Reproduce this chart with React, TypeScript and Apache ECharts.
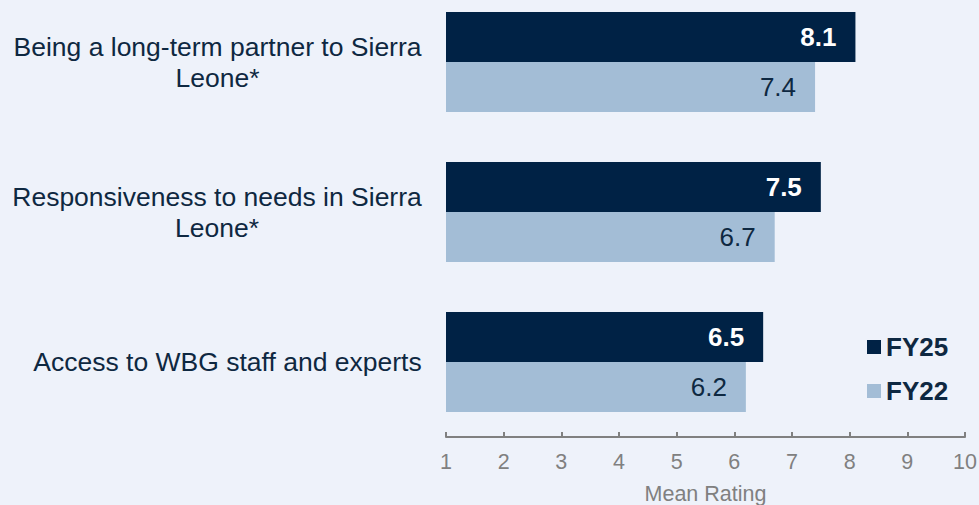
import React, { useEffect, useRef } from "react";
import * as echarts from "echarts";

const categories = [
  "Being a long-term partner to Sierra\nLeone*",
  "Responsiveness to needs in Sierra\nLeone*",
  "Access to WBG staff and experts",
];
const fy25 = [8.1, 7.5, 6.5];
const fy22 = [7.4, 6.7, 6.2];
const xTicks = [1, 2, 3, 4, 5, 6, 7, 8, 9, 10];

const FONT = "'Liberation Sans', Arial, sans-serif";
const NAVY = "#002245";
const LIGHT = "#A3BDD6";
const TEXT = "#0E2841";
const LABEL_SIZE = 26.5;

function measure(text: string, size: number): number {
  const c = document.createElement("canvas");
  const ctx = c.getContext("2d");
  if (!ctx) return text.length * size * 0.5;
  ctx.font = `${size}px 'Liberation Sans', Arial, sans-serif`;
  return ctx.measureText(text).width;
}

export default function App() {
  const ref = useRef<HTMLDivElement>(null);
  useEffect(() => {
    if (!ref.current) return;
    const chart = echarts.init(ref.current, undefined, { renderer: "svg" });
    const rich: Record<string, any> = {};
    categories.forEach((cat, i) => {
      const lines = cat.split("\n");
      const w = Math.ceil(Math.max(...lines.map((l) => measure(l, LABEL_SIZE))));
      rich["r" + i] = {
        width: w,
        align: "center",
        fontSize: LABEL_SIZE,
        fontFamily: FONT,
        color: TEXT,
        lineHeight: 31,
      };
    });
    chart.setOption({
      animation: false,
      backgroundColor: "#EEF2FA",
      textStyle: { fontFamily: FONT },
      grid: { left: 446, width: 519, top: -13, height: 450, outerBoundsMode: "none", containLabel: false },
      legend: {
        orient: "vertical",
        left: 862,
        top: 329,
        itemWidth: 14,
        itemHeight: 14,
        itemGap: 18,
        icon: "rect",
        textStyle: { fontSize: 26, fontWeight: "bold", color: TEXT, fontFamily: FONT },
        data: ["FY25", "FY22"],
      },
      xAxis: {
        type: "value",
        min: xTicks[0],
        max: xTicks[xTicks.length - 1],
        interval: 1,
        name: "Mean Rating",
        nameLocation: "middle",
        nameGap: 46,
        nameTextStyle: { fontSize: 21.5, color: "#808080", fontFamily: FONT },
        splitLine: { show: false },
        axisLine: { show: true, lineStyle: { color: "#808080", width: 2 } },
        axisTick: { show: true, inside: true, length: 5, lineStyle: { color: "#808080", width: 2 } },
        axisLabel: { fontSize: 21.5, color: "#808080", margin: 14, fontFamily: FONT },
      },
      yAxis: {
        type: "category",
        inverse: true,
        data: categories,
        axisLine: { show: false },
        axisTick: { show: false },
        axisLabel: {
          margin: 24,
          formatter: (v: string) => {
            const i = categories.indexOf(v);
            return v
              .split("\n")
              .map((l) => `{r${i}|${l}}`)
              .join("\n");
          },
          rich,
        },
      },
      series: [
        {
          name: "FY25",
          type: "bar",
          data: fy25,
          barWidth: 50,
          barGap: "0%",
          itemStyle: { color: NAVY },
          label: {
            show: true,
            position: "insideRight",
            distance: 19,
            color: "#FFFFFF",
            fontWeight: "bold",
            fontSize: 26,
            fontFamily: FONT,
            formatter: (p: any) => p.value.toFixed(1),
          },
        },
        {
          name: "FY22",
          type: "bar",
          data: fy22,
          barWidth: 50,
          barGap: "0%",
          itemStyle: { color: LIGHT },
          label: {
            show: true,
            position: "insideRight",
            distance: 19,
            color: TEXT,
            fontSize: 26,
            fontFamily: FONT,
            formatter: (p: any) => p.value.toFixed(1),
          },
        },
      ],
    });
    return () => chart.dispose();
  }, []);
  return <div ref={ref} style={{ width: 979, height: 505, position: "fixed", left: 0, top: 0 }} />;
}
